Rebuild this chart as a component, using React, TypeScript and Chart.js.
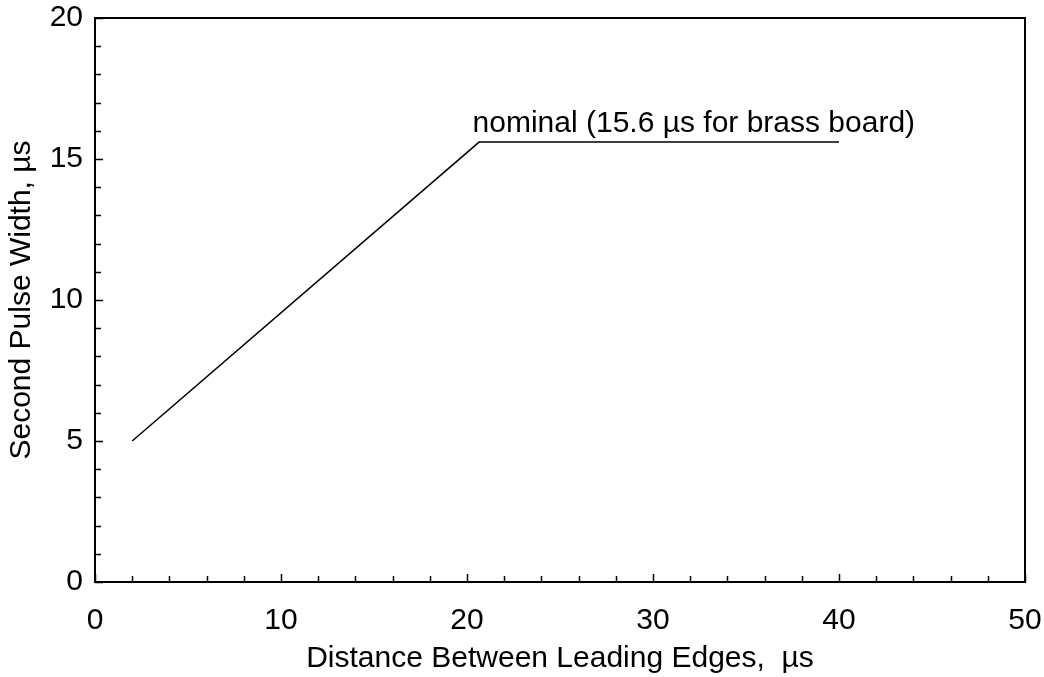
import React, { useEffect, useRef } from "react";
import { Chart, registerables } from "chart.js";

Chart.register(...registerables);

// Data
const xValues = [2, 20.65, 40];
const yValues = [5, 15.6, 15.6];

const xAxisTitle = "Distance Between Leading Edges,  µs";
const yAxisTitle = "Second Pulse Width, µs";
const annotationText = "nominal (15.6 µs for brass board)";
const annotationX = 20.3;
const annotationY = 15.6;

const xMin = 0, xMax = 50, xMajorStep = 10, xMinorStep = 2;
const yMin = 0, yMax = 20, yMajorStep = 5, yMinorStep = 1;

const FONT = "'Liberation Sans', Arial, sans-serif";
const FONT_SIZE = 30;

const framePlugin = {
  id: "frameAndTicks",
  afterDraw(chart: any) {
    const { ctx, chartArea } = chart;
    const xs = chart.scales.x;
    const ys = chart.scales.y;
    ctx.save();
    ctx.strokeStyle = "#000";
    ctx.lineWidth = 2;
    ctx.strokeRect(chartArea.left, chartArea.top, chartArea.right - chartArea.left, chartArea.bottom - chartArea.top);
    ctx.lineWidth = 1.5;
    ctx.beginPath();
    for (let v = xMin; v <= xMax + 1e-9; v += xMinorStep) {
      const px = Math.round(xs.getPixelForValue(v)) + 0.5;
      const len = Math.abs(v % xMajorStep) < 1e-9 ? 8 : 6;
      ctx.moveTo(px, chartArea.bottom);
      ctx.lineTo(px, chartArea.bottom - len);
    }
    for (let v = yMin; v <= yMax + 1e-9; v += yMinorStep) {
      const py = Math.round(ys.getPixelForValue(v)) + 0.5;
      const len = Math.abs(v % yMajorStep) < 1e-9 ? 8 : 6;
      ctx.moveTo(chartArea.left, py);
      ctx.lineTo(chartArea.left + len, py);
    }
    ctx.stroke();
    // annotation
    ctx.fillStyle = "#000";
    ctx.font = `${FONT_SIZE}px ${FONT}`;
    ctx.textAlign = "left";
    ctx.textBaseline = "alphabetic";
    ctx.fillText(annotationText, xs.getPixelForValue(annotationX), ys.getPixelForValue(annotationY) - 10);
    ctx.restore();
  },
};

export default function App() {
  const ref = useRef<HTMLCanvasElement | null>(null);
  useEffect(() => {
    if (!ref.current) return;
    const chart = new Chart(ref.current, {
      type: "scatter",
      data: {
        datasets: [
          {
            data: xValues.map((x, i) => ({ x, y: yValues[i] })),
            showLine: true,
            borderColor: "#000",
            borderWidth: 1.5,
            pointRadius: 0,
            fill: false,
          },
        ],
      },
      options: {
        responsive: false,
        animation: false,
        layout: { padding: { top: 18, right: 19, left: 0, bottom: 0 } },
        plugins: { legend: { display: false }, tooltip: { enabled: false } },
        scales: {
          x: {
            type: "linear",
            min: xMin,
            max: xMax,
            grid: { display: false, drawTicks: false },
            border: { display: false },
            ticks: { stepSize: xMajorStep, color: "#000", font: { family: FONT, size: FONT_SIZE }, padding: 21, maxRotation: 0 },
            title: { display: true, text: xAxisTitle, color: "#000", font: { family: FONT, size: FONT_SIZE }, padding: { top: 1, bottom: 0 } },
            afterFit: (s: any) => { s.height = 95; s.paddingLeft = 0; s.paddingRight = 0; },
          },
          y: {
            type: "linear",
            min: yMin,
            max: yMax,
            grid: { display: false, drawTicks: false },
            border: { display: false },
            ticks: { stepSize: yMajorStep, color: "#000", font: { family: FONT, size: FONT_SIZE }, padding: 12 },
            title: { display: true, text: yAxisTitle, color: "#000", font: { family: FONT, size: FONT_SIZE }, padding: { top: 4, bottom: 0 } },
            afterFit: (s: any) => { s.width = 95; s.paddingTop = 0; s.paddingBottom = 0; },
          },
        },
      },
      plugins: [framePlugin],
    });
    return () => chart.destroy();
  }, []);
  return (
    <div style={{ position: "fixed", left: 0, top: 0, width: 1044, height: 677, background: "#fff" }}>
      <canvas ref={ref} width={1044} height={677} />
    </div>
  );
}
